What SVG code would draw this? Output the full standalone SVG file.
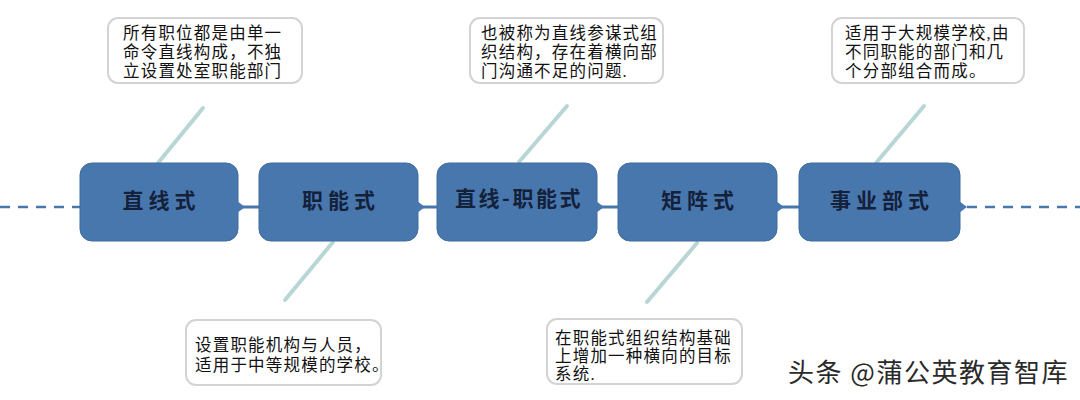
<svg xmlns="http://www.w3.org/2000/svg" width="1080" height="400" viewBox="0 0 1080 400">
<defs>
<style>
.node rect{fill:#4877ae;stroke:#3f6c9f;stroke-width:1}
.node text{font-family:"Noto Sans CJK SC","Liberation Sans",sans-serif;font-size:21px;font-weight:bold;fill:#14213a;text-anchor:middle;letter-spacing:5px}
.tab{fill:#4877ae}
.call rect{fill:#ffffff;stroke:#d3d3d3;stroke-width:2}
.call text{font-family:"Liberation Serif","Noto Sans CJK SC",serif;font-size:16.5px;fill:#111111;letter-spacing:1.2px}
.lead{stroke:#b9d6d6;stroke-width:4;stroke-linecap:round}
.dash{stroke:#4877ae;stroke-width:2.5;stroke-dasharray:10 8;fill:none}
.link{stroke:#4877ae;stroke-width:3;fill:none}
</style>
</defs>
<rect width="1080" height="400" fill="#ffffff"/>
<g id="connectors">
<line class="dash" x1="0" y1="207" x2="80" y2="207"/>
<line class="dash" x1="967" y1="207" x2="1080" y2="207"/>
<line class="link" x1="240" y1="207" x2="259" y2="207"/>
<line class="link" x1="420" y1="207" x2="437" y2="207"/>
<line class="link" x1="599" y1="207" x2="618" y2="207"/>
<line class="link" x1="779" y1="207" x2="799" y2="207"/>
<line class="lead" x1="203" y1="108" x2="158" y2="163"/>
<line class="lead" x1="567" y1="106" x2="519" y2="162"/>
<line class="lead" x1="924" y1="106" x2="876" y2="163"/>
<line class="lead" x1="333" y1="242" x2="285" y2="300"/>
<line class="lead" x1="697" y1="243" x2="647" y2="302"/>
</g>
<g id="n1" class="node">
<rect x="80" y="163" width="158" height="78" rx="12"/>
<polygon class="tab" points="237,201 245,207 237,213"/>
<text x="161.5" y="208">直线式</text>
</g>
<g id="n2" class="node">
<rect x="259" y="163" width="159" height="78" rx="12"/>
<polygon class="tab" points="417,201 425,207 417,213"/>
<text x="341" y="208">职能式</text>
</g>
<g id="n3" class="node">
<rect x="437" y="163" width="160" height="78" rx="12"/>
<polygon class="tab" points="596,201 604,207 596,213"/>
<text x="519" y="206" style="letter-spacing:2.5px">直线-职能式</text>
</g>
<g id="n4" class="node">
<rect x="618" y="163" width="159" height="78" rx="12"/>
<polygon class="tab" points="776,201 784,207 776,213"/>
<text x="700" y="208">矩阵式</text>
</g>
<g id="n5" class="node">
<rect x="799" y="163" width="161" height="78" rx="12"/>
<polygon class="tab" points="959,201 967,207 959,213"/>
<text x="882" y="208">事业部式</text>
</g>
<g id="c1" class="call">
<rect x="108" y="18" width="194" height="65" rx="10"/>
<text x="123" y="39">所有职位都是由单一</text>
<text x="123" y="58">命令直线构成，不独</text>
<text x="123" y="77">立设置处室职能部门</text>
</g>
<g id="c2" class="call">
<rect x="470" y="18" width="193" height="65" rx="10"/>
<text x="481" y="39">也被称为直线参谋式组</text>
<text x="481" y="58">织结构，存在着横向部</text>
<text x="481" y="77">门沟通不足的问题.</text>
</g>
<g id="c3" class="call">
<rect x="832" y="18" width="192" height="65" rx="10"/>
<text x="845" y="39">适用于大规模学校,由</text>
<text x="845" y="58">不同职能的部门和几</text>
<text x="845" y="77">个分部组合而成。</text>
</g>
<g id="c4" class="call">
<rect x="186" y="320" width="195" height="65" rx="10"/>
<text x="195" y="351">设置职能机构与人员，</text>
<text x="195" y="371">适用于中等规模的学校。</text>
</g>
<g id="c5" class="call">
<rect x="547" y="319" width="195" height="65" rx="10"/>
<text x="555" y="344">在职能式组织结构基础</text>
<text x="555" y="362">上增加一种横向的目标</text>
<text x="555" y="380">系统.</text>
</g>
<text x="788" y="382" font-family="Noto Sans CJK SC,sans-serif" font-size="26" letter-spacing="1.5" fill="#2a2a2a">头条 @蒲公英教育智库</text>
</svg>
